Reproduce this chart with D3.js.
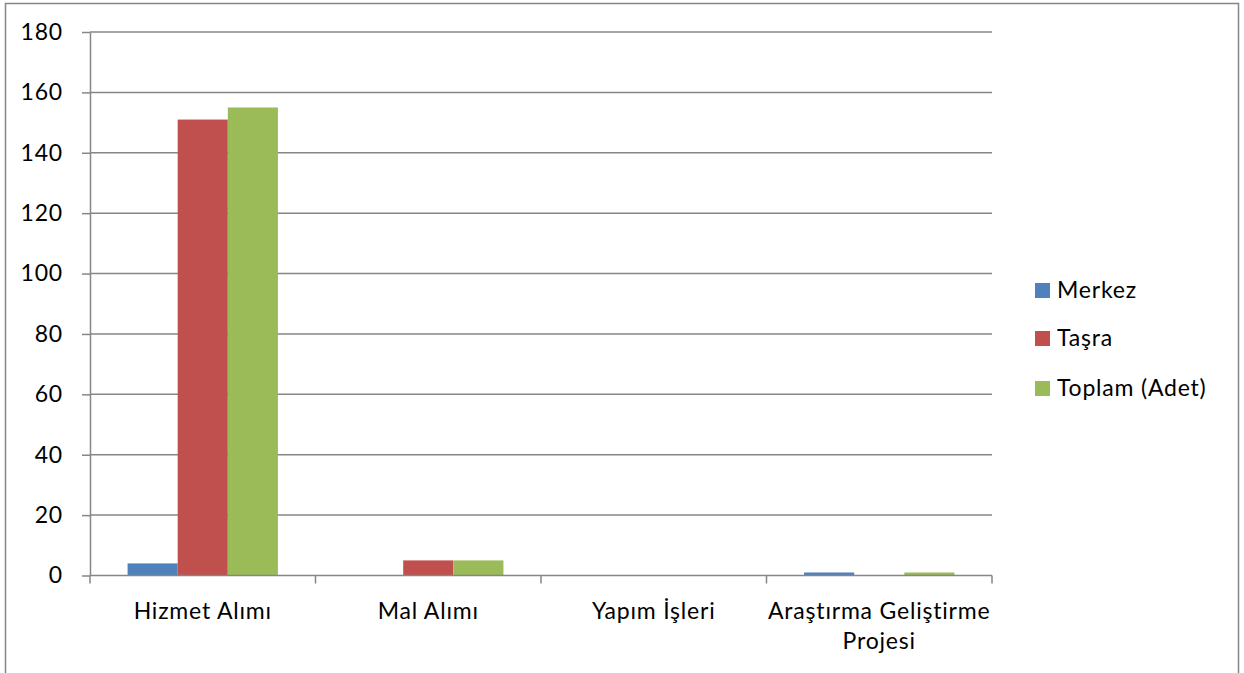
<!DOCTYPE html>
<html><head><meta charset="utf-8">
<script src="https://cdn.jsdelivr.net/npm/d3@7"></script>
<style>html,body{margin:0;padding:0;background:#fff;}svg{display:block;}</style>
</head><body>
<script>
const categories = ["Hizmet Alımı", "Mal Alımı", "Yapım İşleri", "Araştırma Geliştirme Projesi"];
const seriesNames = ["Merkez", "Taşra", "Toplam (Adet)"];
const merkez = [4, 0, 0, 1];
const tasra = [151, 5, 0, 0];
const toplam = [155, 5, 0, 1];
const yTicks = [0, 20, 40, 60, 80, 100, 120, 140, 160, 180];
const colors = ["#4F81BD", "#C0504D", "#9BBB59"];
const seriesValues = [merkez, tasra, toplam];

(function() {
const W = 1244, H = 673;
const font = "Lato, 'Open Sans', sans-serif";
const fs = 23;
const ls = 0.8;
const svg = d3.select("body").append("svg").attr("width", W).attr("height", H);

// outer frame
svg.append("path").attr("d", `M5.5,${H} L5.5,3.5 L1238.5,3.5 L1238.5,${H}`)
  .attr("fill", "none").attr("stroke", "#868686").attr("stroke-width", 1.5);

const pLeft = 90, pRight = 992, pTop = 32, pBottom = 575.5;
const x = d3.scaleBand().domain(categories).range([pLeft, pRight]).paddingInner(0).paddingOuter(0);
const y = d3.scaleLinear().domain([0, 180]).range([pBottom, pTop]);
const barW = x.bandwidth() / (3 + 1.5);
const x1 = d3.scaleBand().domain(d3.range(3)).range([0, barW * 3]);
const offset = (x.bandwidth() - barW * 3) / 2;

// gridlines
svg.append("g").selectAll("line").data(yTicks.filter(d => d > 0)).join("line")
  .attr("x1", pLeft).attr("x2", pRight)
  .attr("y1", d => y(d)).attr("y2", d => y(d))
  .attr("stroke", "#868686").attr("stroke-width", 1.5);

// y axis
const yAxis = svg.append("g").attr("transform", `translate(${pLeft},0)`)
  .call(d3.axisLeft(y).tickValues(yTicks).tickSize(8).tickPadding(19).tickSizeOuter(0));
yAxis.select(".domain").attr("stroke", "#868686").attr("stroke-width", 1.5);
yAxis.selectAll(".tick line").attr("stroke", "#868686").attr("stroke-width", 1.5);
yAxis.selectAll(".tick text").attr("font-family", font).attr("font-size", fs).attr("fill", "#000")
  .attr("letter-spacing", ls);

// bars
const groups = svg.append("g").selectAll("g").data(categories).join("g")
  .attr("transform", d => `translate(${x(d) + offset},0)`);
groups.selectAll("rect").data((c, i) => seriesValues.map((s, k) => ({k, v: s[i]})))
  .join("rect")
  .attr("x", d => x1(d.k)).attr("width", x1.bandwidth())
  .attr("y", d => y(d.v)).attr("height", d => y(0) - y(d.v))
  .attr("fill", d => colors[d.k]);

// x axis
const xAxis = svg.append("g").attr("transform", `translate(0,${pBottom})`);
xAxis.append("line").attr("x1", pLeft).attr("x2", pRight).attr("y1", 0).attr("y2", 0)
  .attr("stroke", "#868686").attr("stroke-width", 1.5);
const tickPos = categories.map(c => x(c)).concat([pRight]);
xAxis.selectAll(".xt").data(tickPos).join("line").attr("class", "xt")
  .attr("x1", d => d).attr("x2", d => d).attr("y1", 0).attr("y2", 8)
  .attr("stroke", "#868686").attr("stroke-width", 1.5);

const labelLines = categories.map(c => c === "Araştırma Geliştirme Projesi" ? ["Araştırma Geliştirme", "Projesi"] : [c]);
xAxis.selectAll(".xl").data(categories).join("text").attr("class", "xl")
  .attr("y", 43)
  .attr("text-anchor", "middle").attr("font-family", font).attr("font-size", fs).attr("fill", "#000")
  .attr("letter-spacing", ls)
  .each(function(d, i) {
    const t = d3.select(this);
    labelLines[i].forEach((ln, j) => {
      t.append("tspan").attr("x", x(d) + x.bandwidth() / 2).attr("dy", j === 0 ? 0 : 30).text(ln);
    });
  });

// legend
const legend = svg.append("g").attr("transform", "translate(1035,0)");
const legY = [283, 331, 381];
seriesNames.forEach((n, i) => {
  legend.append("rect").attr("x", 0).attr("y", legY[i]).attr("width", 15).attr("height", 15).attr("fill", colors[i]);
  legend.append("text").attr("x", 22).attr("y", legY[i] + 14.5).attr("font-family", font).attr("font-size", fs)
    .attr("letter-spacing", ls).attr("fill", "#000").text(n);
});
})();
</script>
</body></html>
